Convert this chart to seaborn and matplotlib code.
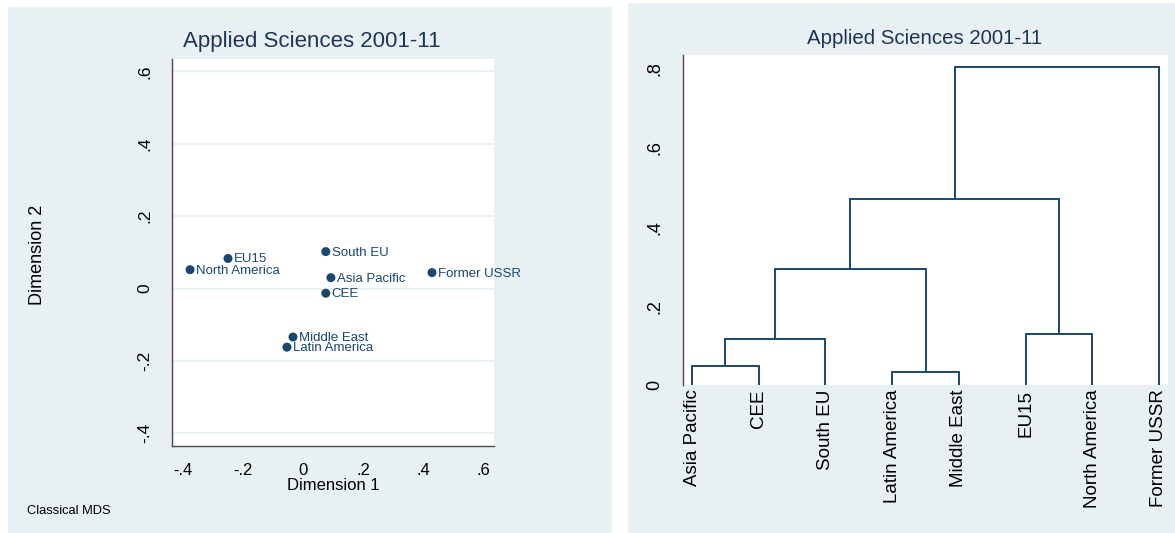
import matplotlib
matplotlib.use("Agg")
import matplotlib.pyplot as plt
from matplotlib.patches import Rectangle
import seaborn as sns
import pandas as pd
import numpy as np

# ---------------- data ----------------
regions = ["North America", "EU15", "South EU", "Asia Pacific", "Former USSR",
           "CEE", "Middle East", "Latin America"]
dim1 = [-0.375, -0.249, 0.076, 0.093, 0.429, 0.076, -0.033, -0.053]
dim2 = [0.052, 0.083, 0.102, 0.030, 0.044, -0.013, -0.134, -0.162]

mds_xticks = [-0.4, -0.2, 0, 0.2, 0.4, 0.6]
mds_xticklabels = ["-.4", "-.2", "0", ".2", ".4", ".6"]
mds_yticks = [-0.4, -0.2, 0, 0.2, 0.4, 0.6]
mds_yticklabels = ["-.4", "-.2", "0", ".2", ".4", ".6"]

leaves = ["Asia Pacific", "CEE", "South EU", "Latin America", "Middle East",
          "EU15", "North America", "Former USSR"]
# merges: (child a, child b, height); ids 0-7 leaves, 8+ created clusters in order
merge_a = [0, 8, 3, 9, 5, 11, 13]
merge_b = [1, 2, 4, 10, 6, 12, 7]
merge_h = [0.048, 0.118, 0.034, 0.295, 0.131, 0.471, 0.805]

dend_yticks = [0, 0.2, 0.4, 0.6, 0.8]
dend_yticklabels = ["0", ".2", ".4", ".6", ".8"]

title = "Applied Sciences 2001-11"

# ---------------- style ----------------
sns.set_theme(style="white")
REG = ["Liberation Sans", "DejaVu Sans"]
plt.rcParams["font.family"] = REG

BG = "#e8f0f3"
NAVY = "#1a476f"
TITLE_C = "#1c3557"
SPINE = "#4a4a4a"

W, H = 1175, 533
fig = plt.figure(figsize=(W / 100, H / 100), dpi=100)
fig.patch.set_facecolor("white")

def fx(px):
    return px / W

def fy(py):
    return 1 - py / H

# panel backgrounds
fig.patches.append(Rectangle((fx(8), fy(533)), fx(612 - 8), (533 - 7) / H,
                             transform=fig.transFigure, facecolor=BG,
                             edgecolor="none", zorder=-10))
fig.patches.append(Rectangle((fx(628), fy(533)), fx(1175 - 628), (533 - 3) / H,
                             transform=fig.transFigure, facecolor=BG,
                             edgecolor="none", zorder=-10))

# ---------------- left: MDS ----------------
ax1 = fig.add_axes([fx(172), fy(446), fx(494 - 172), (446 - 59) / H])
ax1.set_facecolor("white")
df = pd.DataFrame({"region": regions, "d1": dim1, "d2": dim2})
sns.scatterplot(data=df, x="d1", y="d2", ax=ax1, color=NAVY, s=42,
                edgecolor="none", zorder=3)
for r, xv, yv in zip(regions, dim1, dim2):
    ax1.annotate(r, (xv, yv), xytext=(6, -1), textcoords="offset pixels",
                 ha="left", va="center", fontsize=9.5, color=NAVY, zorder=4)
ax1.set_xlim(-0.435, 0.635)
ax1.set_ylim(-0.435, 0.634)
ax1.set_xticks(mds_xticks)
ax1.set_xticklabels(mds_xticklabels, fontsize=12)
ax1.set_yticks(mds_yticks)
ax1.set_yticklabels(mds_yticklabels, rotation=90, va="center", fontsize=12.5)
for yv in mds_yticks:
    ax1.axhline(yv, color="#e9f0f3", lw=1.5, zorder=1)
ax1.set_xlabel("")
ax1.set_ylabel("")
for s in ["top", "right"]:
    ax1.spines[s].set_visible(False)
for s in ["left", "bottom"]:
    ax1.spines[s].set_color(SPINE)
    ax1.spines[s].set_linewidth(1.0)
ax1.tick_params(axis="both", which="both", direction="out", length=6,
                width=1.0, color=SPINE, labelcolor="black")
ax1.tick_params(axis="y", pad=8)
ax1.tick_params(axis="x", pad=6)

fig.text(fx(312), fy(41), title, ha="center", va="center",
         fontsize=16, color=TITLE_C)
fig.text(fx(333), fy(486), "Dimension 1", ha="center", va="center",
         fontsize=12, color="black")
fig.text(fx(37), fy(255), "Dimension 2", ha="center", va="center",
         rotation=90, fontsize=13, color="black")
fig.text(fx(27), fy(511), "Classical MDS", ha="left", va="center",
         fontsize=9.3, color="black")

# ---------------- right: dendrogram ----------------
ax2 = fig.add_axes([fx(683), fy(385.4), fx(1168 - 683), (385.4 - 55) / H])
ax2.set_facecolor("white")
node_x = {i: float(i + 1) for i in range(len(leaves))}
node_h = {i: 0.0 for i in range(len(leaves))}
for k, (a, b, h) in enumerate(zip(merge_a, merge_b, merge_h)):
    xa, xb = node_x[a], node_x[b]
    ha, hb = node_h[a], node_h[b]
    seg = pd.DataFrame({"x": [xa, xa, xb, xb], "y": [ha, h, h, hb]})
    ax2.plot(seg["x"], seg["y"], color=NAVY, lw=1.4, solid_joinstyle="miter",
             zorder=3)
    nid = len(leaves) + k
    node_x[nid] = (xa + xb) / 2
    node_h[nid] = h
ax2.set_xlim(0.865, 8.135)
ax2.set_ylim(0, 0.835)
ax2.set_xticks(range(1, len(leaves) + 1))
ax2.set_xticklabels(leaves, rotation=90, fontsize=13.5)
ax2.set_yticks(dend_yticks)
ax2.set_yticklabels(dend_yticklabels, rotation=90, va="center", fontsize=13)
for s in ["top", "right", "bottom"]:
    ax2.spines[s].set_visible(False)
ax2.spines["left"].set_color(SPINE)
ax2.spines["left"].set_linewidth(1.0)
ax2.tick_params(axis="y", direction="out", length=6, width=1.0,
                color=SPINE, labelcolor="black", pad=8)
ax2.tick_params(axis="x", length=0, pad=3, labelcolor="black")
ax2.set_xlabel("")
ax2.set_ylabel("")

fig.text(fx(925), fy(38), title, ha="center", va="center",
         fontsize=14.7, color=TITLE_C)

fig.savefig("out.png", dpi=100, facecolor="white")
